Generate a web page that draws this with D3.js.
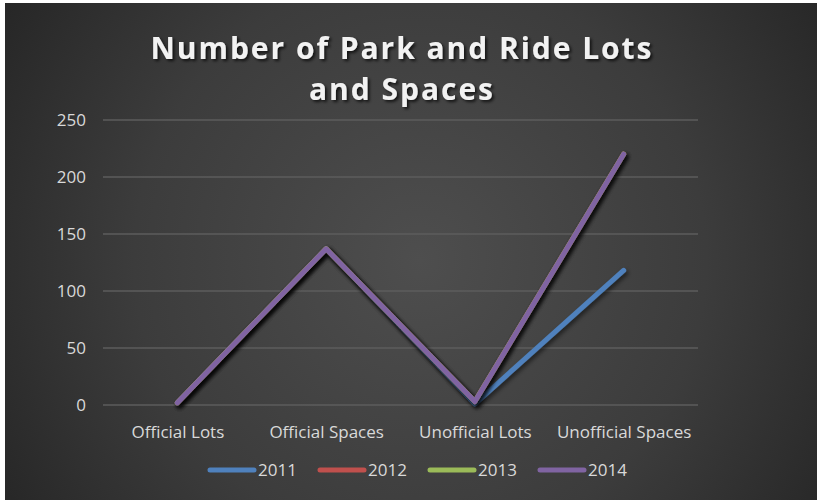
<!DOCTYPE html>
<html><head><meta charset="utf-8">
<script src="https://cdn.jsdelivr.net/npm/d3@7"></script>
<style>html,body{margin:0;padding:0;background:#fff;}svg{display:block;}</style>
</head><body>
<script>
const categories = ["Official Lots", "Official Spaces", "Unofficial Lots", "Unofficial Spaces"];
const seriesNames = ["2011", "2012", "2013", "2014"];
const values2011 = [2, 137, 1, 118];
const values2012 = [2, 137, 3, 220];
const values2013 = [2, 137, 3, 220];
const values2014 = [2, 137, 3, 220];
const yTicks = [0, 50, 100, 150, 200, 250];
const colors = ["#4f81bd", "#c0504d", "#9bbb59", "#8064a2"];
const titleLines = ["Number of Park and Ride Lots", "and Spaces"];

const series = seriesNames.map((n, i) => ({name: n, values: [values2011, values2012, values2013, values2014][i], color: colors[i]}));

const W = 817, H = 500;
const svg = d3.select("body").append("svg").attr("width", W).attr("height", H);
const defs = svg.append("defs");
const rg = defs.append("radialGradient").attr("id", "bg").attr("gradientUnits", "userSpaceOnUse")
  .attr("cx", 420).attr("cy", 260).attr("r", 520);
rg.append("stop").attr("offset", "0").attr("stop-color", "#4e4e4e");
rg.append("stop").attr("offset", "0.55").attr("stop-color", "#3c3c3c");
rg.append("stop").attr("offset", "1").attr("stop-color", "#232323");
const sh = defs.append("filter").attr("id", "sh").attr("x", "-10%").attr("y", "-10%").attr("width", "130%").attr("height", "130%");
sh.append("feDropShadow").attr("dx", 2).attr("dy", 2.5).attr("stdDeviation", 2).attr("flood-color", "#000").attr("flood-opacity", 0.55);
const tsh = defs.append("filter").attr("id", "tsh").attr("x", "-10%").attr("y", "-30%").attr("width", "130%").attr("height", "160%");
tsh.append("feDropShadow").attr("dx", 2).attr("dy", 2).attr("stdDeviation", 1.5).attr("flood-color", "#000").attr("flood-opacity", 0.7);

svg.append("rect").attr("x", 5).attr("y", 3).attr("width", W - 5).attr("height", H - 3).attr("fill", "url(#bg)");

const x = d3.scalePoint().domain(categories).range([103, 698]).padding(0.5);
const y = d3.scaleLinear().domain([0, 250]).range([405, 120]);

// gridlines
svg.append("g").selectAll("line").data(yTicks).join("line")
  .attr("x1", 103).attr("x2", 698).attr("y1", d => y(d)).attr("y2", d => y(d))
  .attr("stroke", "#5c5c5c").attr("stroke-width", 1.3);

// y axis
const yAxis = svg.append("g").attr("transform", "translate(86,0)")
  .call(d3.axisLeft(y).tickValues(yTicks).tickSize(0).tickPadding(0));
yAxis.select(".domain").remove();
yAxis.selectAll("text").attr("fill", "#d9d9d9").attr("font-family", "Open Sans").attr("font-size", 17).attr("dy", "0.35em");

// x axis
const xAxis = svg.append("g").attr("transform", "translate(0,405)")
  .call(d3.axisBottom(x).tickSize(0).tickPadding(0));
xAxis.select(".domain").remove();
xAxis.selectAll("text").attr("fill", "#d9d9d9").attr("font-family", "Open Sans").attr("font-size", 17)
  .attr("y", 27).attr("dy", "0.35em");

// lines
const line = d3.line().x((d, i) => x(categories[i])).y(d => y(d));
svg.append("g").selectAll("path").data(series).join("path")
  .attr("d", d => line(d.values)).attr("fill", "none")
  .attr("stroke", d => d.color).attr("stroke-width", 5)
  .attr("stroke-linecap", "round").attr("stroke-linejoin", "round")
  .attr("filter", "url(#sh)");

// title
const titleG = svg.append("g").attr("filter", "url(#tsh)");
const tl = [{t: titleLines[0], y: 59, w: 501}, {t: titleLines[1], y: 100, w: 184}];
titleG.selectAll("text").data(tl).join("text")
  .attr("x", 401).attr("y", d => d.y).attr("text-anchor", "middle")
  .attr("font-family", "Open Sans").attr("font-weight", "bold").attr("font-size", 30)
  .attr("fill", "#f2f2f2").attr("textLength", d => d.w).attr("lengthAdjust", "spacing")
  .text(d => d.t);

// legend
const legX = [208, 318, 428, 538];
const leg = svg.append("g").selectAll("g").data(series).join("g")
  .attr("transform", (d, i) => `translate(${legX[i]},470)`);
leg.append("line").attr("x1", 2).attr("x2", 46).attr("y1", 0).attr("y2", 0)
  .attr("stroke", d => d.color).attr("stroke-width", 5).attr("stroke-linecap", "round");
leg.append("text").attr("x", 50).attr("y", 0).attr("dy", "0.36em")
  .attr("fill", "#d9d9d9").attr("font-family", "Open Sans").attr("font-size", 17)
  .text(d => d.name);
</script>
</body></html>
